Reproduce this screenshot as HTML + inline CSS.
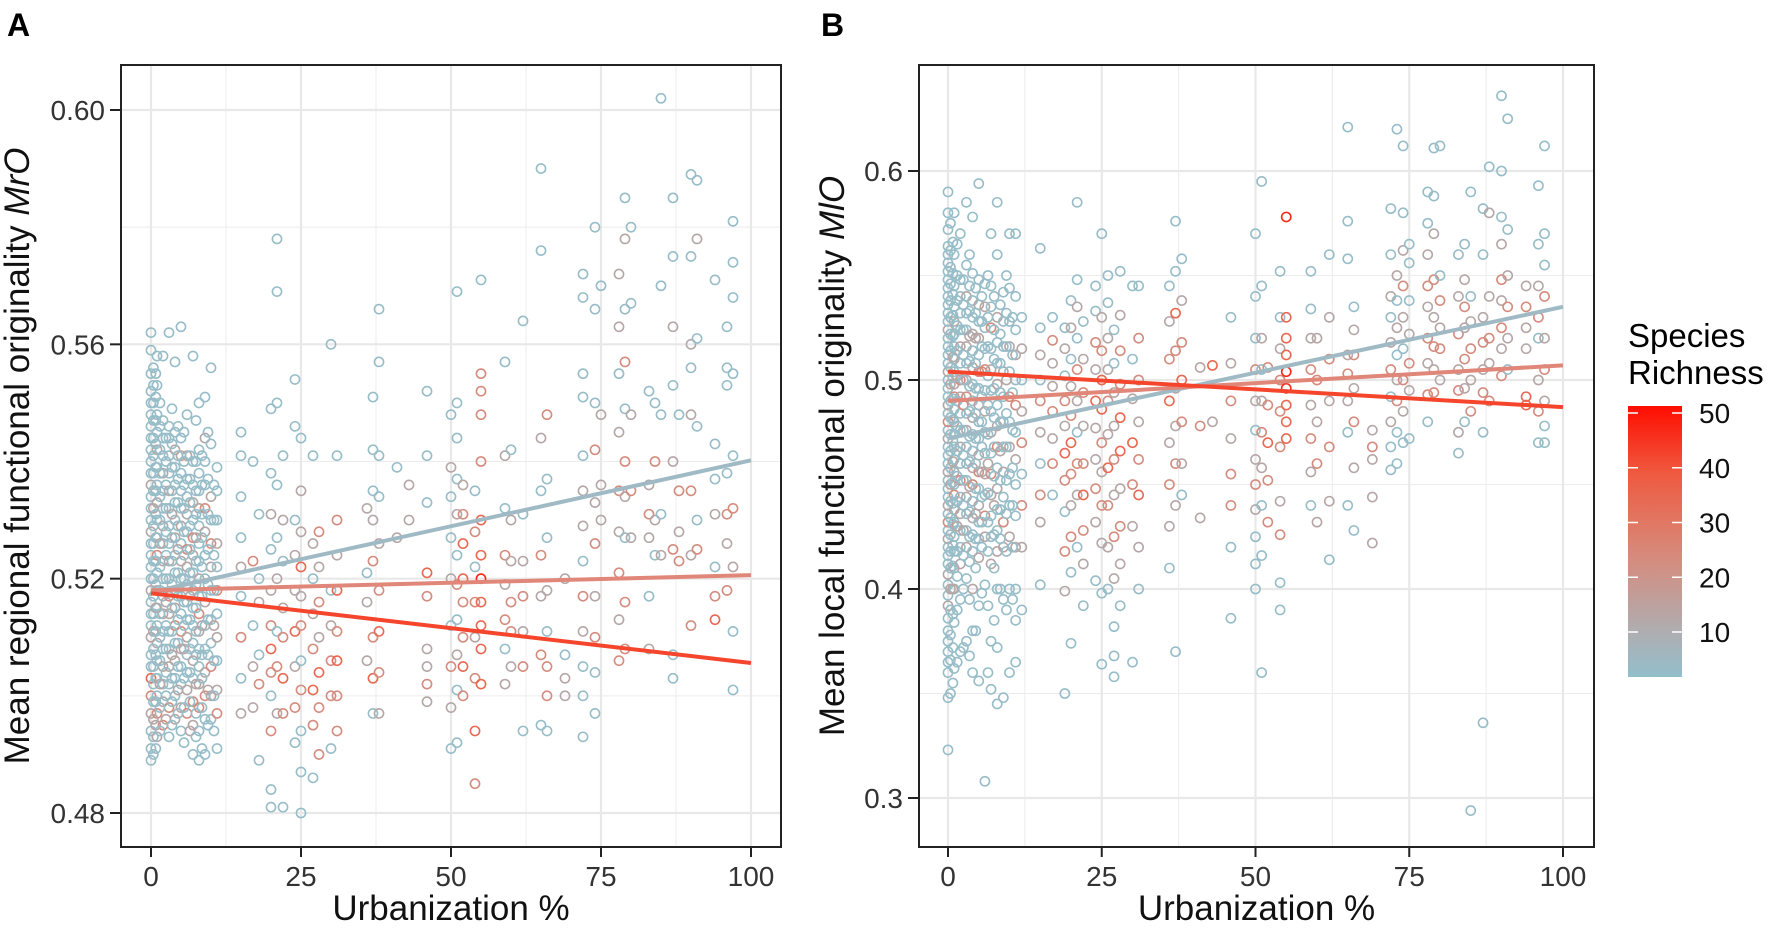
<!DOCTYPE html>
<html><head><meta charset="utf-8"><style>
html,body{margin:0;padding:0;background:#fff;}
svg{display:block;font-family:"Liberation Sans",Arial,sans-serif;}
</style></head><body>
<svg id="fig" width="1772" height="928" viewBox="0 0 1772 928">
<text x="7" y="36" font-size="32" font-weight="bold">A</text>
<text x="821" y="36" font-size="32" font-weight="bold">B</text>
<g id="pa"></g>
<g id="pb"></g>
<g id="legend">
<defs><linearGradient id="cg" x1="0" y1="1" x2="0" y2="0">
<stop offset="0" stop-color="#93bfcc"/><stop offset="0.18" stop-color="#b1acae"/><stop offset="0.45" stop-color="#d78a7b"/><stop offset="0.75" stop-color="#ef5a40"/><stop offset="1" stop-color="#ff0d00"/></linearGradient></defs>
<text x="1628" y="347" font-size="33">Species</text>
<text x="1628" y="384" font-size="33">Richness</text>
<rect x="1628" y="406" width="54" height="271" fill="url(#cg)"/>
</g>
</svg>
<script>
const NS="http://www.w3.org/2000/svg";
const rCode={b:3,g:12,s:24,o:34,r:46};
// Panel A data (columns of urbanization with MrO values and richness codes)
const colXA=[0,1,2,3,4,5,6,7,8,9,10,11,15,17,18,20,21,22,24,25,27,28,30,31,36,37,38,41,43,46,50,51,52,54,55,59,60,62,65,66,69,72,74,75,78,79,80,83,84,85,87,88,90,91,94,96,97,0.4,0.8,1.5,2.5,3.5,4.5,5.5,6.5,7.5,8.5,9.5,10.5];
const colYA=[
[.489,.491,.494,.497,.500,.503,.505,.507,.510,.512,.514,.516,.518,.520,.522,.524,.526,.528,.530,.532,.534,.536,.538,.540,.542,.544,.546,.548,.550,.552,.555,.559,.562],
[.493,.497,.500,.503,.506,.509,.512,.515,.518,.521,.524,.527,.530,.533,.536,.539,.542,.545,.548,.553,.558],
[.495,.499,.502,.505,.508,.511,.514,.517,.520,.523,.526,.529,.532,.535,.538,.541,.544,.547,.558],
[.493,.498,.502,.505,.508,.511,.514,.517,.520,.523,.526,.529,.532,.535,.538,.541,.544,.546,.562],
[.496,.500,.503,.506,.509,.512,.515,.518,.521,.524,.527,.530,.533,.536,.539,.542,.545,.557],
[.494,.498,.502,.505,.508,.511,.514,.517,.520,.523,.526,.529,.532,.535,.538,.541,.544,.563],
[.497,.501,.504,.507,.510,.513,.516,.519,.522,.525,.528,.531,.534,.537,.541,.548],
[.490,.495,.499,.503,.506,.509,.512,.515,.518,.521,.524,.527,.530,.533,.536,.540,.558],
[.489,.494,.498,.502,.505,.508,.511,.514,.517,.520,.523,.526,.529,.532,.535,.538,.542,.550],
[.490,.496,.500,.504,.508,.512,.516,.520,.524,.528,.532,.536,.540,.544,.551],
[.496,.500,.505,.509,.513,.518,.522,.526,.530,.534,.543,.556],
[.491,.497,.501,.506,.510,.514,.518,.522,.526,.530,.535,.539],
[.497,.503,.510,.517,.522,.527,.534,.541,.545],
[.498,.505,.512,.523,.540],
[.489,.502,.507,.516,.520,.531],
[.481,.484,.494,.500,.504,.508,.512,.518,.525,.531,.538,.549],
[.497,.505,.511,.520,.527,.536,.550,.569,.578],
[.481,.497,.503,.510,.515,.523,.530,.541],
[.492,.498,.505,.511,.518,.524,.530,.546,.554],
[.480,.487,.494,.501,.506,.512,.517,.522,.528,.535,.544],
[.486,.495,.501,.508,.514,.520,.526,.541],
[.490,.498,.504,.510,.516,.522,.528],
[.491,.500,.506,.512,.518,.560],
[.494,.500,.506,.511,.518,.524,.530,.541],
[.506,.516,.521,.532],
[.497,.503,.510,.523,.530,.535,.542,.551],
[.497,.504,.511,.518,.526,.534,.541,.557,.566],
[.527,.539],
[.530,.536],
[.499,.502,.505,.508,.517,.521,.533,.541,.552],
[.491,.498,.505,.512,.520,.527,.534,.539,.548],
[.492,.501,.507,.513,.519,.524,.531,.537,.544,.550,.569],
[.500,.505,.510,.516,.520,.526,.531,.536],
[.485,.494,.503,.510,.516,.522,.528,.535],
[.502,.508,.512,.516,.520,.524,.530,.540,.548,.552,.555,.571],
[.502,.508,.513,.519,.524,.532,.541,.557],
[.505,.511,.516,.523,.530,.542],
[.494,.505,.511,.517,.523,.531,.564],
[.495,.507,.517,.524,.535,.544,.576,.590],
[.494,.500,.505,.511,.518,.527,.537,.548],
[.500,.503,.507,.520],
[.493,.500,.505,.511,.517,.523,.529,.535,.541,.551,.555,.568,.572],
[.497,.504,.510,.517,.526,.533,.542,.550,.566,.580],
[.530,.536,.548,.570],
[.506,.513,.521,.528,.535,.545,.555,.563,.572],
[.508,.516,.527,.534,.540,.549,.557,.566,.578,.585],
[.527,.535,.548,.567,.580],
[.508,.517,.527,.531,.536,.552],
[.524,.530,.540,.550],
[.524,.531,.548,.570,.602],
[.503,.507,.525,.540,.553,.563,.575,.585],
[.523,.528,.535,.548],
[.512,.524,.535,.548,.556,.560,.575,.589],
[.525,.530,.546,.561,.578,.588],
[.513,.517,.522,.531,.537,.543,.571],
[.518,.526,.531,.538,.553,.556,.563],
[.501,.511,.522,.532,.541,.555,.568,.574,.581],
[.490,.493,.496,.499,.502,.505,.508,.511,.514,.517,.520,.523,.526,.529,.532,.535,.538,.541,.544,.547,.550,.553,.556],
[.491,.495,.499,.503,.507,.511,.515,.519,.523,.527,.531,.535,.539,.543,.547,.551,.555],
[.494,.498,.502,.506,.510,.514,.518,.522,.526,.530,.534,.538,.542,.546,.550],
[.496,.500,.504,.508,.512,.516,.520,.524,.528,.532,.536,.540,.544],
[.495,.499,.503,.507,.511,.515,.519,.523,.527,.531,.535,.539,.543,.549],
[.497,.501,.505,.509,.513,.517,.521,.525,.529,.533,.537,.541,.546],
[.492,.498,.503,.508,.512,.516,.520,.524,.528,.532,.536,.540,.545],
[.494,.499,.504,.508,.513,.517,.521,.525,.529,.533,.537,.541],
[.493,.497,.502,.507,.511,.515,.519,.523,.527,.531,.535,.540,.547],
[.491,.498,.503,.507,.512,.517,.522,.527,.531,.536,.541],
[.495,.501,.507,.513,.519,.525,.531,.537,.545],
[.494,.500,.506,.512,.518,.524,.530,.536]];
const colRA=["bbbgsobbgbbbgbbbbgbbbgbbbbbbbbbbb","gsbbbgbbgbsbbgbbgbbbb","sgbgbbgbbgbgbbgbbbb","bsbgbbgsbgbbbgbbbbb","gbbgbsgbbbgbbbbgbb","bgbbgsbbbgbgbbbgbb","sgbbgbbbgsbgbbgb","bgsbgbbbbbgsbgbbb","bbsgbbgsbgbbbgbbbb","bbsgbbgbbgsbbgb","bgsbbbgsbgbb","bsgbgbsbgbbb","gbsbgbbbb","ggbsb","bsbgbb","bbsbsosgbgbb","gsbgbbbbb","bsosgbgb","bsgoggbbb","bbbsbsgoggb","bsosgbgb","ssogsgs","bssgbb","ssosogsb","ggbg","bossgbbb","gsosgbbbb","gb","gg","gsggsobbb","bgsbgbbgb","bbgbsbgbbbb","sossoosg","sosgsbsb","ooooroossssb","gbsgsbgb","gssggb","bsgsgbb","bsgsbgbb","bssbgbbs","ggbg","bbbgsbggbbbbb","bbsgsgsbbb","gggb","sgsgsgbgg","ssbgsbsbgb","gsgbb","gbgsgb","bgsb","gbbbb","bbsgbgbb","sgsb","sgsgbgbb","sbbbgb","osbgbbb","sgsbbbb","bbgsbbbbb","bbgbbbbgbbbbbbgbbbbbbbb","bgbbbbgbbbbbbbbbb","bbgbbbbbgbbbbbb","gbbbbgbbbbbbb","bbbgbbbbbgbbbb","bgbbbbbgbbbbb","bbbgbbbbbbbbb","gbbbbgbbbbbb","bbgbbbbbgbbbb","bbbbgbbbbbb","bgbbbbbbb","bbbgbbbb"];
const lineA=[[0,0.5177,100,0.5402,"#9fbac4"],[0,0.518,100,0.5206,"#e0877a"],[0,0.5175,100,0.5056,"#f5452c"]];
// Panel B data
const colXB=[0,1,2,3,4,5,6,7,8,9,10,11,12,15,17,19,20,21,22,24,25,26,27,28,30,31,36,37,38,41,43,46,50,51,52,54,55,59,60,62,65,66,69,72,73,74,75,78,79,80,83,84,85,87,88,90,91,94,96,97,0.4,0.8,1.5,2.5,3.5,4.5,5.5,6.5,7.5,8.5,9.5,10.5];
const colYB=[
[.323,.348,.360,.365,.370,.375,.380,.386,.392,.397,.402,.407,.412,.416,.420,.424,.428,.432,.436,.440,.444,.448,.452,.456,.460,.464,.468,.472,.476,.480,.484,.488,.492,.496,.500,.504,.508,.512,.516,.520,.524,.528,.532,.536,.540,.544,.548,.552,.556,.560,.564,.572,.580,.590],
[.362,.384,.400,.410,.418,.425,.432,.438,.445,.450,.456,.462,.468,.474,.480,.486,.492,.498,.504,.510,.516,.522,.528,.535,.545,.560,.580],
[.370,.395,.412,.420,.428,.436,.444,.452,.460,.468,.476,.484,.492,.500,.508,.516,.524,.532,.540,.548,.570],
[.375,.405,.420,.428,.436,.444,.452,.460,.468,.476,.484,.492,.500,.508,.516,.524,.532,.540,.555,.585],
[.360,.380,.400,.418,.426,.434,.442,.450,.458,.466,.474,.482,.490,.498,.506,.514,.522,.530,.538,.551,.578],
[.356,.392,.415,.424,.432,.440,.448,.456,.464,.472,.480,.488,.496,.504,.512,.520,.528,.536,.548,.594],
[.308,.402,.425,.435,.445,.455,.465,.475,.485,.495,.505,.515,.525,.535,.546],
[.352,.375,.412,.425,.435,.445,.455,.465,.475,.485,.495,.505,.515,.525,.535,.545,.570],
[.345,.372,.400,.418,.428,.438,.448,.458,.468,.478,.488,.498,.508,.518,.530,.560,.585],
[.348,.395,.420,.432,.444,.456,.468,.480,.492,.504,.516,.528,.542],
[.360,.400,.425,.440,.455,.468,.480,.492,.504,.516,.528,.544,.570],
[.365,.385,.400,.420,.435,.450,.462,.475,.488,.500,.512,.524,.540,.570],
[.390,.420,.440,.455,.470,.485,.500,.515,.530],
[.402,.432,.445,.460,.475,.490,.500,.512,.525,.563],
[.445,.460,.472,.485,.497,.508,.519,.530],
[.350,.399,.418,.437,.452,.465,.478,.490,.502,.515,.525],
[.374,.408,.425,.440,.455,.470,.483,.497,.510,.525,.538],
[.420,.445,.460,.475,.490,.505,.520,.535,.548,.585],
[.392,.412,.428,.445,.460,.478,.494,.510,.528],
[.404,.432,.448,.462,.477,.490,.505,.518,.533,.545],
[.364,.398,.422,.440,.456,.470,.486,.500,.514,.530,.570],
[.400,.420,.440,.458,.474,.490,.505,.520,.537,.550],
[.358,.368,.382,.405,.425,.445,.462,.478,.494,.508,.524],
[.392,.412,.430,.448,.466,.482,.498,.514,.531,.552],
[.365,.430,.450,.470,.491,.510,.545],
[.400,.420,.445,.462,.480,.500,.520,.545],
[.410,.430,.450,.470,.490,.510,.528,.545],
[.370,.440,.460,.478,.496,.514,.532,.552,.576],
[.445,.460,.480,.500,.518,.538,.558],
[.434,.478,.506],
[.480,.507],
[.386,.420,.440,.455,.472,.490,.508,.530],
[.400,.412,.425,.438,.450,.462,.476,.490,.505,.520,.540,.570],
[.360,.416,.440,.458,.475,.490,.505,.520,.545,.595],
[.432,.452,.470,.488,.506],
[.390,.403,.426,.442,.468,.485,.500,.515,.530,.552],
[.472,.480,.488,.496,.504,.512,.520,.530,.578],
[.440,.456,.472,.488,.505,.520,.534,.552],
[.432,.460,.480,.500,.520],
[.414,.442,.468,.490,.510,.530,.560],
[.440,.475,.490,.503,.512,.558,.576,.621],
[.428,.458,.480,.496,.512,.524,.535],
[.422,.444,.462,.468,.476],
[.457,.468,.480,.492,.505,.518,.530,.540,.560,.582],
[.460,.475,.490,.500,.512,.525,.538,.550,.620],
[.470,.485,.500,.515,.530,.545,.562,.580,.612],
[.472,.495,.508,.522,.538,.556,.565],
[.480,.493,.508,.520,.535,.545,.560,.575,.590],
[.494,.505,.516,.530,.548,.570,.588,.611],
[.500,.515,.525,.538,.550,.612],
[.465,.475,.495,.505,.522,.540,.560],
[.480,.496,.510,.525,.535,.548,.565],
[.294,.485,.500,.515,.528,.540,.590],
[.336,.475,.494,.505,.518,.530,.560,.582],
[.490,.508,.520,.540,.580,.602],
[.502,.515,.525,.538,.548,.565,.578,.600,.636],
[.505,.520,.535,.550,.572,.625],
[.488,.492,.515,.525,.535,.545],
[.470,.485,.500,.520,.530,.545,.565,.593],
[.470,.478,.490,.505,.520,.540,.555,.570,.612],
[.350,.366,.378,.390,.400,.410,.418,.426,.434,.442,.450,.458,.466,.474,.482,.490,.498,.506,.514,.522,.530,.538,.546,.554,.562,.575],
[.355,.372,.388,.400,.411,.421,.431,.441,.451,.461,.471,.481,.491,.501,.511,.521,.531,.541,.551,.566],
[.365,.390,.406,.418,.430,.442,.454,.466,.478,.490,.502,.514,.526,.538,.550,.565],
[.372,.400,.416,.428,.440,.452,.464,.476,.488,.500,.512,.524,.536,.548],
[.368,.395,.413,.425,.437,.449,.461,.473,.485,.497,.509,.521,.533,.545,.560],
[.380,.410,.424,.436,.448,.460,.472,.484,.496,.508,.520,.532,.544],
[.398,.420,.432,.444,.456,.468,.480,.492,.504,.516,.528,.540],
[.360,.392,.418,.432,.446,.460,.474,.488,.502,.516,.530,.550],
[.385,.410,.426,.440,.454,.468,.482,.496,.510,.524,.540],
[.400,.424,.438,.452,.466,.480,.494,.508,.522,.536],
[.390,.418,.436,.452,.468,.484,.500,.516,.532,.550],
[.395,.420,.440,.458,.476,.494,.512,.530]];
const colRB=["bbbbbbbbgbbgbbbgbsbgbbbgbbbgbsbgbbbgbbbbgbbbbbbbbbbb","bbbgbbbgsbgbbbgbsgbgbbgbbbb","bbgbbgbsbgbbgsbgbbbbb","bbgbbgbbbgbsgbgbbgbb","bbgbbgbsgbbgbbgbgbbbb","bbgbbgbsgbbgbsbgbgbb","bbgsbgbbgbsbbgb","bbgbbgsbgbbgbsbbb","bbbgbbgbsgbgbbgbb","bbgsbgbbbgbbb","bbgbbgbsbgbbb","bbbgbbgbsbgbbb","bgsbsgbgb","bgsbgsbgbb","bsgsggsb","bgsbsogsbgb","bbsgsosgbgb","bgsbgsbgbb","bgsosgsgb","bgsggogsbb","bbgsgsoosgb","bgsogsggbb","bbbgsgsggbb","bgsgoossgb","bgsogbb","bgosgssb","bgsgosgb","bgsggsobb","bgsosgb","gsg","go","bbssgsgb","bbbgsgbgsbbb","bbbgsgbgbb","ssoss","bbsgsssgb","ooorrooor","bgsgsgbb","gsgsg","bgsgsgb","bbgsgbbb","bgsgsgb","gggsg","bbgbsgbgbb","bbsgbgbgb","bgsbgsgbb","bgsgbbb","bsgsgsgbb","sgsgsgbb","gsgsbb","bgsgsgb","bgsgsgb","bsgsgbb","bbsgsgbb","sgsggb","sgsgsgbbb","bgsgbb","ooggsg","bsgbsgbb","bbgsgsbbb","bbbbgbbbbbgbbbbbgbbbbbbbbb","bbbgbbbbbgbbbbgbbbbb","bbbbgbbbbbgbbbbb","bbbgbbbbsbbbbb","bbbbbgbbbbbgbbb","bbbgbbbbbbgbb","bbbbgbbbsbbb","bbbbbgbbbbbb","bbbgbbbbbbb","bbbbgbbbbb","bbbbbbgbbb","bbbbbbbb"];
const lineB=[[0,0.472,100,0.535,"#9fbac4"],[0,0.490,100,0.507,"#e0877a"],[0,0.504,100,0.487,"#f5452c"]];
const legendTicks=[10,20,30,40,50];

function col(r){
  const stops=[[2,[147,191,204]],[10,[177,172,174]],[25,[215,138,123]],[38,[239,90,64]],[50,[255,13,0]]];
  for(let i=0;i<stops.length-1;i++){const a=stops[i],b=stops[i+1];
    if(r<=b[0]){const t=Math.max(0,(r-a[0])/(b[0]-a[0]));
      return "rgb("+a[1].map((v,k)=>Math.round(v+(b[1][k]-v)*t)).join(",")+")";}}
  return "rgb(255,13,0)";
}
function mk(tag,attrs,parent){const e=document.createElementNS(NS,tag);for(const k in attrs)e.setAttribute(k,attrs[k]);parent.appendChild(e);return e;}

function panel(g,cfg){
  const sx=v=>cfg.x0+(v/100)*(cfg.x100-cfg.x0);
  const sy=v=>cfg.yA+(v-cfg.vA)/(cfg.vB-cfg.vA)*(cfg.yB-cfg.yA);
  cfg.minorY.forEach(v=>{const l=mk("line",{x1:cfg.L,x2:cfg.R,y1:sy(v),y2:sy(v),stroke:"#ececec","stroke-width":1},g);
    });
  [12.5,37.5,62.5,87.5].forEach(v=>{const l=mk("line",{x1:sx(v),x2:sx(v),y1:cfg.T,y2:cfg.B,stroke:"#ececec","stroke-width":1},g);
    });
  cfg.majorY.forEach(v=>{const l=mk("line",{x1:cfg.L,x2:cfg.R,y1:sy(v),y2:sy(v),stroke:"#e8e8e8","stroke-width":2.2},g);
    
    const t=mk("line",{x1:cfg.L-11,x2:cfg.L,y1:sy(v),y2:sy(v),stroke:"#222","stroke-width":2},g);
    
    const tx=mk("text",{x:cfg.L-16,y:sy(v)+10,"font-size":28,"text-anchor":"end",fill:"#333"},g);
    tx.textContent=cfg.fmt(v);
    });
  [0,25,50,75,100].forEach(v=>{const l=mk("line",{x1:sx(v),x2:sx(v),y1:cfg.T,y2:cfg.B,stroke:"#e8e8e8","stroke-width":2.2},g);
    
    const t=mk("line",{x1:sx(v),x2:sx(v),y1:cfg.B,y2:cfg.B+10,stroke:"#222","stroke-width":2},g);
    
    const tx=mk("text",{x:sx(v),y:cfg.B+39,"font-size":28,"text-anchor":"middle",fill:"#333"},g);
    tx.textContent=String(v);
    });
  cfg.cx.forEach((x,i)=>{cfg.cy[i].forEach((y,j)=>{
    const code=cfg.cr[i][j]||"b";
    const c=mk("circle",{cx:sx(x),cy:sy(y),r:4.6,fill:"none",stroke:col(rCode[code]),"stroke-width":1.6},g);
    });});
  cfg.lines.forEach(L=>{const l=mk("line",{x1:sx(L[0]),y1:sy(L[1]),x2:sx(L[2]),y2:sy(L[3]),stroke:L[4],"stroke-width":4},g);
    });
  const box=mk("rect",{x:cfg.L,y:cfg.T,width:cfg.R-cfg.L,height:cfg.B-cfg.T,fill:"none",stroke:"#222","stroke-width":2},g);
  
  const xt=mk("text",{x:(cfg.L+cfg.R)/2,y:920,"font-size":35,"text-anchor":"middle",fill:"#111"},g);
  xt.textContent="Urbanization %";
  
  const yt=mk("text",{x:0,y:0,"font-size":35,"text-anchor":"middle",fill:"#111",transform:"translate("+cfg.ytx+",456) rotate(-90)"},g);
  yt.textContent=cfg.ytitle;
  const it=mk("tspan",{"font-style":"italic"},yt);it.textContent=cfg.yital;
  
}
panel(document.getElementById("pa"),{L:121,R:781,T:65,B:847,x0:151,x100:751,yA:110,vA:0.60,yB:813,vB:0.48,
  majorY:[0.48,0.52,0.56,0.60],minorY:[0.50,0.54,0.58],fmt:v=>v.toFixed(2),cx:colXA,cy:colYA,cr:colRA,lines:lineA,
  ytx:29,ytitle:"Mean regional functional originality ",yital:"MrO"});
panel(document.getElementById("pb"),{L:919,R:1594,T:65,B:847,x0:948,x100:1563,yA:171,vA:0.6,yB:798,vB:0.3,
  majorY:[0.3,0.4,0.5,0.6],minorY:[0.35,0.45,0.55],fmt:v=>v.toFixed(1),cx:colXB,cy:colYB,cr:colRB,lines:lineB,
  ytx:844,ytitle:"Mean local functional originality  ",yital:"MlO"});
const lg=document.getElementById("legend");
legendTicks.forEach(v=>{const y=413+(50-v)*5.475;
  const a=mk("line",{x1:1628,x2:1638,y1:y,y2:y,stroke:"#fff","stroke-width":1.5},lg);
  
  const b=mk("line",{x1:1672,x2:1682,y1:y,y2:y,stroke:"#fff","stroke-width":1.5},lg);
  
  const t=mk("text",{x:1699,y:y+10,"font-size":28,fill:"#111"},lg);t.textContent=String(v);
  });
</script>
</body></html>
